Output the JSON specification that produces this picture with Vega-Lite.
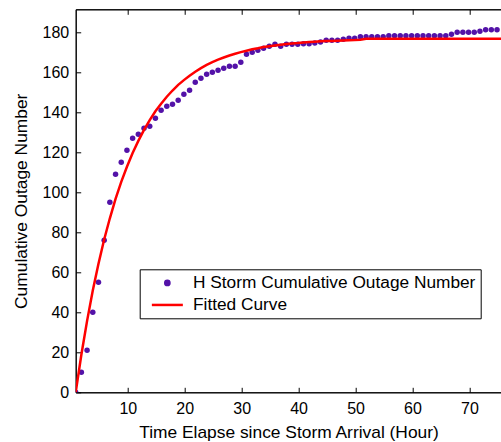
{
  "$schema": "https://vega.github.io/schema/vega-lite/v6.json",
  "autosize": {"type": "none"},
  "padding": {"left": 75.7, "top": 9.3, "right": 0, "bottom": 49.7},
  "width": 425.6,
  "height": 383,
  "background": "white",
  "config": {
    "view": {"stroke": "black", "strokeWidth": 1},
    "font": "Liberation Sans",
    "axis": {
      "labelFont": "Liberation Sans",
      "labelFontSize": 16,
      "labelColor": "black",
      "titleFont": "Liberation Sans",
      "titleFontSize": 17.4,
      "titleFontWeight": "normal",
      "titleColor": "black",
      "domainColor": "black",
      "domainWidth": 1,
      "tickColor": "black",
      "tickSize": -5,
      "grid": false
    },
    "legend": {
      "labelLimit": 500
    }
  },
  "datasets": {
    "pts": [
      {"t": 0.85, "v": 0}, {"t": 1.85, "v": 10}, {"t": 2.85, "v": 21}, {"t": 3.85, "v": 40},
      {"t": 4.85, "v": 55}, {"t": 5.85, "v": 76}, {"t": 6.85, "v": 95}, {"t": 7.85, "v": 109},
      {"t": 8.85, "v": 115}, {"t": 9.85, "v": 121}, {"t": 10.85, "v": 127}, {"t": 11.85, "v": 129},
      {"t": 12.85, "v": 132}, {"t": 13.85, "v": 133}, {"t": 14.85, "v": 137}, {"t": 15.85, "v": 141},
      {"t": 16.85, "v": 143}, {"t": 17.85, "v": 144}, {"t": 18.85, "v": 146}, {"t": 19.85, "v": 149},
      {"t": 20.85, "v": 151}, {"t": 21.85, "v": 155}, {"t": 22.85, "v": 157}, {"t": 23.85, "v": 159},
      {"t": 24.85, "v": 160}, {"t": 25.85, "v": 161}, {"t": 26.85, "v": 162}, {"t": 27.85, "v": 163},
      {"t": 28.85, "v": 163}, {"t": 29.85, "v": 165}, {"t": 30.85, "v": 169}, {"t": 31.85, "v": 170},
      {"t": 32.85, "v": 171}, {"t": 33.85, "v": 172}, {"t": 34.85, "v": 173}, {"t": 35.85, "v": 174},
      {"t": 36.85, "v": 173}, {"t": 37.85, "v": 174}, {"t": 38.85, "v": 174}, {"t": 39.85, "v": 174},
      {"t": 40.85, "v": 174.3}, {"t": 41.85, "v": 174.3}, {"t": 42.85, "v": 174.7}, {"t": 43.85, "v": 175.2},
      {"t": 44.85, "v": 176}, {"t": 45.85, "v": 176}, {"t": 46.85, "v": 176}, {"t": 47.85, "v": 176.5},
      {"t": 48.85, "v": 177}, {"t": 49.85, "v": 177}, {"t": 50.85, "v": 177.8}, {"t": 51.85, "v": 177.8},
      {"t": 52.85, "v": 177.8}, {"t": 53.85, "v": 177.8}, {"t": 54.85, "v": 177.8}, {"t": 55.85, "v": 178.3},
      {"t": 56.85, "v": 178.3}, {"t": 57.85, "v": 178.3}, {"t": 58.85, "v": 178.3}, {"t": 59.85, "v": 178.3},
      {"t": 60.85, "v": 178.3}, {"t": 61.85, "v": 178.3}, {"t": 62.85, "v": 178.3}, {"t": 63.85, "v": 178.3},
      {"t": 64.85, "v": 178.3}, {"t": 65.85, "v": 178.3}, {"t": 66.85, "v": 179}, {"t": 67.85, "v": 180},
      {"t": 68.85, "v": 180}, {"t": 69.85, "v": 180}, {"t": 70.85, "v": 180}, {"t": 71.85, "v": 180.5},
      {"t": 72.85, "v": 181.3}, {"t": 73.85, "v": 181.3}, {"t": 74.85, "v": 181.3}
    ],
    "fit": [
      {"t": 0.85, "v": 0}, {"t": 1.85, "v": 18.9}, {"t": 2.85, "v": 35.7}, {"t": 3.85, "v": 50.9},
      {"t": 4.85, "v": 64.3}, {"t": 5.85, "v": 76.4}, {"t": 6.85, "v": 87.0}, {"t": 7.85, "v": 96.7},
      {"t": 8.85, "v": 105.2}, {"t": 9.85, "v": 112.8}, {"t": 10.85, "v": 119.7}, {"t": 11.85, "v": 125.7},
      {"t": 12.85, "v": 131.2}, {"t": 13.85, "v": 136.1}, {"t": 14.85, "v": 140.5}, {"t": 15.85, "v": 144.3},
      {"t": 16.85, "v": 147.8}, {"t": 17.85, "v": 150.9}, {"t": 18.85, "v": 153.7}, {"t": 19.85, "v": 156.1},
      {"t": 20.85, "v": 158.3}, {"t": 21.85, "v": 160.3}, {"t": 22.85, "v": 162.1}, {"t": 23.85, "v": 163.7},
      {"t": 24.85, "v": 165.1}, {"t": 25.85, "v": 166.3}, {"t": 26.85, "v": 167.4}, {"t": 27.85, "v": 168.4},
      {"t": 28.85, "v": 169.3}, {"t": 29.85, "v": 170.1}, {"t": 30.85, "v": 170.8}, {"t": 31.85, "v": 171.5},
      {"t": 32.85, "v": 172.0}, {"t": 33.85, "v": 172.6}, {"t": 34.85, "v": 173.0}, {"t": 35.85, "v": 173.4},
      {"t": 36.85, "v": 173.8}, {"t": 37.85, "v": 174.1}, {"t": 38.85, "v": 174.4}, {"t": 39.85, "v": 174.6},
      {"t": 40.85, "v": 174.9}, {"t": 41.85, "v": 175.1}, {"t": 42.85, "v": 175.3}, {"t": 43.85, "v": 175.5},
      {"t": 44.85, "v": 175.6}, {"t": 45.85, "v": 175.7}, {"t": 46.85, "v": 175.8}, {"t": 47.85, "v": 175.9},
      {"t": 48.85, "v": 176.0}, {"t": 49.85, "v": 176.1}, {"t": 50.85, "v": 176.3}, {"t": 51.85, "v": 176.8},
      {"t": 55.85, "v": 176.8}, {"t": 60.85, "v": 176.8}, {"t": 65.85, "v": 176.8}, {"t": 70.85, "v": 176.8},
      {"t": 75.85, "v": 176.8}
    ]
  },
  "layer": [
    {
      "data": {"name": "pts"},
      "mark": {"type": "point", "filled": true, "size": 30, "opacity": 1, "clip": true},
      "encoding": {
        "x": {
          "field": "t", "type": "quantitative",
          "scale": {"domain": [0.85, 75.6], "nice": false, "zero": false},
          "axis": {"orient": "bottom", "values": [10, 20, 30, 40, 50, 60, 70], "labelPadding": 13, "title": "Time Elapse since Storm Arrival (Hour)", "titlePadding": 7}
        },
        "y": {
          "field": "v", "type": "quantitative",
          "scale": {"domain": [0, 191.5], "nice": false},
          "axis": {"values": [0, 20, 40, 60, 80, 100, 120, 140, 160, 180], "labelPadding": 12, "title": "Cumulative Outage Number", "titlePadding": 12}
        },
        "color": {
          "datum": "H Storm Cumulative Outage Number",
          "type": "nominal",
          "scale": {"domain": ["H Storm Cumulative Outage Number", "Fitted Curve"], "range": ["#5312a8", "#ff0000"]},
          "legend": {
            "title": null,
            "orient": "none",
            "legendX": 64,
            "legendY": 260,
            "strokeColor": "black",
            "fillColor": "white",
            "padding": 5,
            "labelFont": "Liberation Sans",
            "labelFontSize": 17.3,
            "labelColor": "black",
            "labelLimit": 500,
            "labelOffset": 17,
            "rowPadding": 4,
            "symbolSize": 100,
            "symbolOffset": 14,
            "symbolStrokeWidth": 0,
            "encode": {
              "symbols": {
                "update": {
                  "shape": {"signal": "datum.value === 'Fitted Curve' ? 'stroke' : 'circle'"},
                  "size": {"signal": "datum.value === 'Fitted Curve' ? 961 : 18"},
                  "fill": {"signal": "datum.value === 'Fitted Curve' ? 'transparent' : '#5312a8'"},
                  "stroke": {"signal": "datum.value === 'Fitted Curve' ? '#ff0000' : 'transparent'"},
                  "strokeWidth": {"value": 2.5},
                  "opacity": {"value": 1}
                }
              }
            }
          }
        }
      }
    },
    {
      "data": {"name": "fit"},
      "mark": {"type": "line", "strokeWidth": 2.5, "clip": true},
      "encoding": {
        "x": {
          "field": "t", "type": "quantitative",
          "axis": {"orient": "top", "values": [10, 20, 30, 40, 50, 60, 70], "labels": false, "title": null}
        },
        "y": {"field": "v", "type": "quantitative"},
        "color": {
          "datum": "Fitted Curve",
          "type": "nominal",
          "legend": {
            "title": null,
            "orient": "none",
            "legendX": 64,
            "legendY": 260,
            "strokeColor": "black",
            "fillColor": "white",
            "padding": 5,
            "labelFont": "Liberation Sans",
            "labelFontSize": 17.3,
            "labelColor": "black",
            "labelLimit": 500,
            "labelOffset": 17,
            "rowPadding": 4,
            "symbolSize": 100,
            "symbolOffset": 14,
            "symbolStrokeWidth": 0,
            "encode": {
              "symbols": {
                "update": {
                  "shape": {"signal": "datum.value === 'Fitted Curve' ? 'stroke' : 'circle'"},
                  "size": {"signal": "datum.value === 'Fitted Curve' ? 961 : 18"},
                  "fill": {"signal": "datum.value === 'Fitted Curve' ? 'transparent' : '#5312a8'"},
                  "stroke": {"signal": "datum.value === 'Fitted Curve' ? '#ff0000' : 'transparent'"},
                  "strokeWidth": {"value": 2.5},
                  "opacity": {"value": 1}
                }
              }
            }
          }
        }
      }
    }
  ],
  "resolve": {"axis": {"x": "independent"}}
}
